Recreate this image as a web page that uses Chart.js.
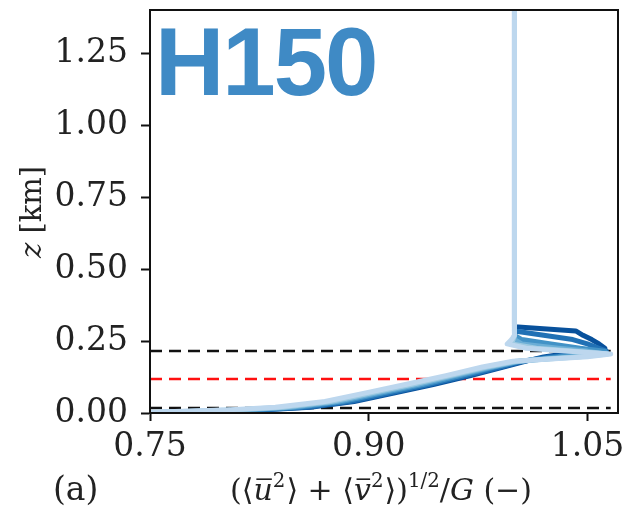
<!DOCTYPE html>
<html>
<head>
<meta charset="utf-8">
<script src="https://cdn.jsdelivr.net/npm/chart.js@4.4.1/dist/chart.umd.min.js"></script>
<style>
  html, body { margin: 0; padding: 0; background: #fff; }
  canvas { display: block; }
</style>
</head>
<body>
<canvas id="profileChart" width="625" height="513"></canvas>
<script>
// Heights (km) shared by all speed profiles
const zLevels = [0, 0.005, 0.01, 0.02, 0.04, 0.07, 0.10, 0.13, 0.16, 0.18, 0.195, 0.205, 0.215, 0.225, 0.24, 0.255, 0.27, 0.285, 0.30, 0.32, 0.45, 1.40];

// Normalised horizontal wind speed, one array per profile (dark -> light)
const speed1 = [0.75, 0.79, 0.826, 0.86, 0.89, 0.918, 0.945, 0.97, 0.993, 1.008, 1.02, 1.034, 1.05, 1.062, 1.058, 1.053, 1.047, 1.042, 1.0, 1.0, 1.0, 1.0];
const speed2 = [0.748, 0.787, 0.822, 0.857, 0.887, 0.915, 0.942, 0.967, 0.991, 1.006, 1.024, 1.044, 1.063, 1.058, 1.05, 1.04, 1.02, 1.0, 1.0, 1.0, 1.0, 1.0];
const speed3 = [0.745, 0.782, 0.816, 0.851, 0.882, 0.91, 0.938, 0.963, 0.987, 1.004, 1.03, 1.06, 1.062, 1.045, 1.025, 1.005, 1.0, 1.0, 1.0, 1.0, 1.0, 1.0];
const speed4 = [0.742, 0.777, 0.81, 0.846, 0.878, 0.906, 0.934, 0.959, 0.984, 1.003, 1.038, 1.062, 1.05, 1.03, 1.005, 1.0, 1.0, 1.0, 1.0, 1.0, 1.0, 1.0];
const speed5 = [0.739, 0.772, 0.805, 0.841, 0.874, 0.902, 0.93, 0.956, 0.981, 1.001, 1.045, 1.064, 1.04, 1.015, 0.998, 0.999, 1.0, 1.0, 1.0, 1.0, 1.0, 1.0];
const speed6 = [0.736, 0.767, 0.8, 0.836, 0.87, 0.898, 0.926, 0.953, 0.978, 0.999, 1.05, 1.066, 1.035, 1.008, 0.995, 0.998, 1.0, 1.0, 1.0, 1.0, 1.0, 1.0];
const profileSpeeds = [speed1, speed2, speed3, speed4, speed5, speed6];
const profileColors = ['#08519c', '#2171b5', '#4292c6', '#6baed6', '#9ecae1', '#bdd7ee'];

// Reference heights (km) shown as dashed lines
const blackLevels = [0.215, 0.017];
const redLevels = [0.118];
const lineSpan = [0.75, 1.066];

// Axis ticks
const xTicks = [0.75, 0.90, 1.05];
const yTicks = [0, 0.25, 0.50, 0.75, 1.00, 1.25];

const serif = "'DejaVu Serif', serif";

const datasets = [];
profileSpeeds.forEach((xs, i) => {
    datasets.push({
        data: zLevels.map((z, j) => ({ x: xs[j], y: z })),
        borderColor: profileColors[i],
        borderWidth: 5,
        order: profileSpeeds.length - i
    });
});
const addLevel = (z, color) => {
    datasets.push({
        data: lineSpan.map(x => ({ x: x, y: z })),
        borderColor: color,
        borderWidth: 2.5,
        borderDash: [12, 7],
        order: 20
    });
};
blackLevels.forEach(z => addLevel(z, '#111'));
redLevels.forEach(z => addLevel(z, '#ff1010'));

// Full box around the plotting area
const frame = {
    id: 'frame',
    afterDraw(chart) {
        const { ctx, chartArea: a } = chart;
        ctx.save();
        ctx.strokeStyle = '#111';
        ctx.lineWidth = 2;
        ctx.strokeRect(a.left, a.top, a.right - a.left, a.bottom - a.top);
        ctx.restore();
    }
};

// Draws a run of text pieces (italic / superscript / overbar) starting at x
const drawPieces = (ctx, pieces, x, y, size, measureOnly) => {
    let cx = x;
    pieces.forEach(p => {
        const s = p.sup ? size * 0.66 : size;
        ctx.font = `${p.italic ? 'italic ' : ''}${s}px ${serif}`;
        const w = ctx.measureText(p.t).width;
        if (!measureOnly) {
            const yy = p.sup ? y - size * 0.42 : y;
            ctx.fillText(p.t, cx, yy);
            if (p.bar) {
                ctx.fillRect(cx + w * 0.15, y - size * 0.72, w * 0.8, 1.6);
            }
        }
        cx += w + (p.gap || 0);
    });
    return cx - x;
};

const labels = {
    id: 'labels',
    afterDraw(chart) {
        const ctx = chart.ctx;
        ctx.save();
        ctx.textBaseline = 'alphabetic';

        // Case name
        ctx.fillStyle = '#3f8ac5';
        ctx.font = "bold 96px 'Liberation Sans', Arial, sans-serif";
        ctx.textAlign = 'left';
        ctx.letterSpacing = '-2px';
        ctx.fillText('H150', 155, 95);
        ctx.letterSpacing = '0px';

        ctx.fillStyle = '#222';

        // Panel tag
        ctx.font = `33px ${serif}`;
        ctx.fillText('(a)', 53, 500);

        // x-axis title
        const pieces = [
            { t: '(⟨' }, { t: 'u', italic: true, bar: true }, { t: '2', sup: true, gap: 1 }, { t: '⟩ + ⟨' },
            { t: 'v', italic: true, bar: true }, { t: '2', sup: true, gap: 1 }, { t: '⟩)' },
            { t: '1/2', sup: true }, { t: '/' }, { t: 'G', italic: true }, { t: ' (−)' }
        ];
        const size = 30;
        const w = drawPieces(ctx, pieces, 0, 0, size, true);
        drawPieces(ctx, pieces, 381 - w / 2, 500, size, false);

        // y-axis title
        ctx.translate(41, 212);
        ctx.rotate(-Math.PI / 2);
        const yPieces = [{ t: 'z', italic: true }, { t: ' [km]' }];
        const yw = drawPieces(ctx, yPieces, 0, 0, 29, true);
        drawPieces(ctx, yPieces, -yw / 2, 0, 29, false);
        ctx.restore();
    }
};

new Chart(document.getElementById('profileChart'), {
    type: 'scatter',
    data: { datasets },
    options: {
        responsive: false,
        animation: false,
        showLine: true,
        layout: { padding: { top: 10, right: 7, left: 0, bottom: 0 } },
        elements: {
            point: { radius: 0, hoverRadius: 0 },
            line: { tension: 0, borderCapStyle: 'butt', borderJoinStyle: 'round' }
        },
        plugins: {
            legend: { display: false },
            tooltip: { enabled: false },
            title: { display: false }
        },
        scales: {
            x: {
                type: 'linear',
                min: 0.75,
                max: 1.071,
                afterFit: s => { s.height = 100; s.paddingLeft = 0; s.paddingRight = 0; },
                afterBuildTicks: s => { s.ticks = xTicks.map(v => ({ value: v })); },
                border: { display: true, color: '#111', width: 2 },
                grid: { drawOnChartArea: false, drawTicks: true, tickLength: 8, tickWidth: 2, tickColor: '#111' },
                ticks: {
                    color: '#222',
                    padding: 7,
                    maxRotation: 0,
                    font: { family: serif, size: 33 },
                    callback: v => v.toFixed(2)
                }
            },
            y: {
                type: 'linear',
                min: 0,
                max: 1.40,
                afterFit: s => { s.width = 150; s.paddingTop = 0; s.paddingBottom = 0; },
                afterBuildTicks: s => { s.ticks = yTicks.map(v => ({ value: v })); },
                border: { display: true, color: '#111', width: 2 },
                grid: { drawOnChartArea: false, drawTicks: true, tickLength: 9, tickWidth: 2, tickColor: '#111' },
                ticks: {
                    color: '#222',
                    padding: 13,
                    font: { family: serif, size: 33 },
                    callback: v => v.toFixed(2)
                }
            }
        }
    },
    plugins: [frame, labels]
});
</script>
</body>
</html>
